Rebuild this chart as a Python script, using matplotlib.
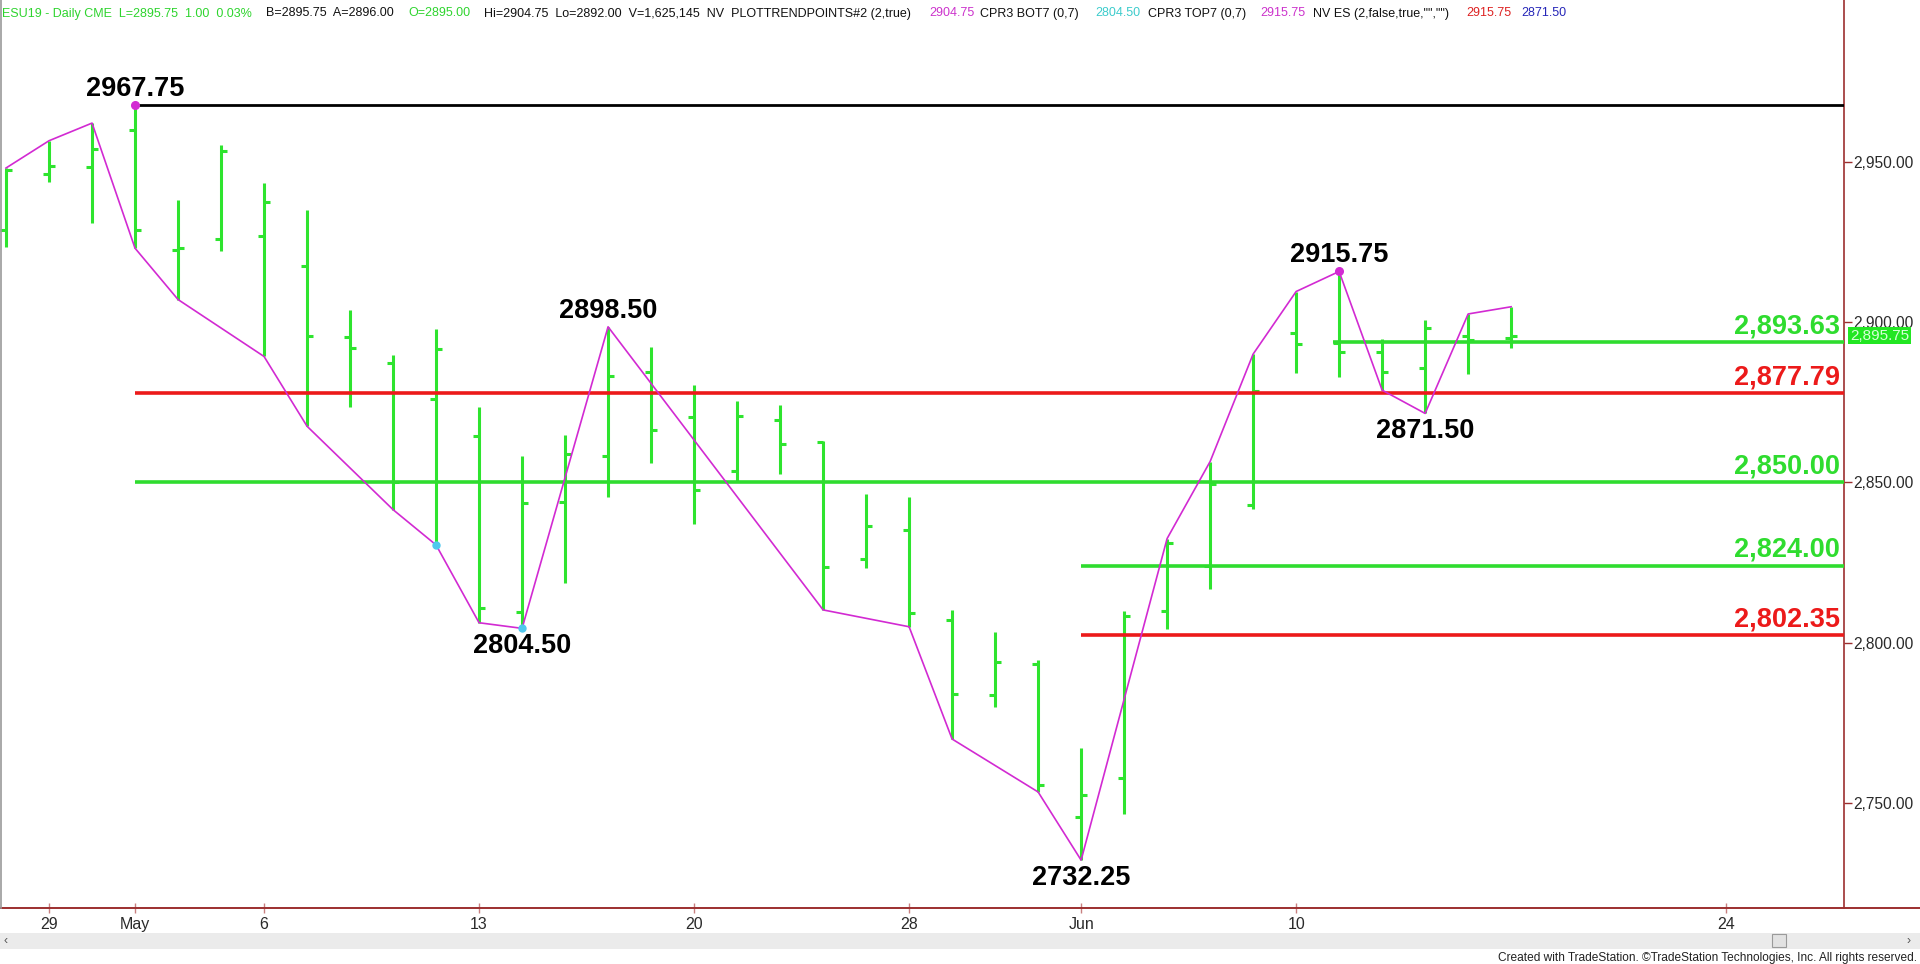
import matplotlib
matplotlib.use("Agg")
import matplotlib.pyplot as plt
from matplotlib.lines import Line2D
from matplotlib.patches import Rectangle
from matplotlib.ticker import FuncFormatter
import pandas as pd

plt.rcParams['font.family'] = ['Liberation Sans', 'DejaVu Sans']

# ---------------- data ----------------
dates = ["2019-04-26", "2019-04-29", "2019-04-30", "2019-05-01", "2019-05-02", "2019-05-03",
         "2019-05-06", "2019-05-07", "2019-05-08", "2019-05-09", "2019-05-10", "2019-05-13",
         "2019-05-14", "2019-05-15", "2019-05-16", "2019-05-17", "2019-05-20", "2019-05-21",
         "2019-05-22", "2019-05-23", "2019-05-24", "2019-05-28", "2019-05-29", "2019-05-30",
         "2019-05-31", "2019-06-03", "2019-06-04", "2019-06-05", "2019-06-06", "2019-06-07",
         "2019-06-10", "2019-06-11", "2019-06-12", "2019-06-13", "2019-06-14", "2019-06-17"]
opens = [2928.75, 2946.00, 2948.25, 2960.00, 2922.50, 2926.00, 2926.75, 2917.50, 2895.25, 2887.25,
         2876.00, 2864.50, 2809.50, 2844.00, 2858.25, 2884.50, 2870.50, 2853.50, 2869.50, 2862.50,
         2826.25, 2835.25, 2807.00, 2783.75, 2793.50, 2745.75, 2758.00, 2810.00, 2824.00, 2843.00,
         2896.50, 2893.50, 2890.75, 2885.75, 2895.75, 2895.00]
highs = [2948.00, 2956.50, 2962.00, 2967.75, 2938.00, 2955.25, 2943.25, 2935.00, 2903.75, 2889.75,
         2897.75, 2873.50, 2858.25, 2864.75, 2898.50, 2892.25, 2880.50, 2875.25, 2874.00, 2863.00,
         2846.50, 2845.50, 2810.25, 2803.25, 2794.50, 2767.25, 2810.00, 2832.50, 2856.50, 2890.00,
         2909.50, 2915.75, 2894.75, 2900.75, 2902.50, 2904.75]
lows = [2923.50, 2943.50, 2931.00, 2923.00, 2907.00, 2922.00, 2889.25, 2867.50, 2873.50, 2841.50,
        2830.50, 2806.25, 2804.50, 2818.75, 2845.50, 2856.00, 2837.00, 2850.25, 2852.50, 2810.25,
        2823.25, 2805.00, 2770.00, 2780.00, 2753.50, 2732.25, 2746.50, 2804.25, 2816.75, 2841.75,
        2884.00, 2883.00, 2878.75, 2871.50, 2883.75, 2892.00]
closes = [2947.25, 2948.50, 2954.00, 2928.75, 2923.00, 2953.25, 2937.50, 2895.50, 2892.00, 2850.25,
          2891.50, 2811.00, 2843.50, 2859.00, 2883.25, 2866.25, 2847.75, 2870.75, 2862.00, 2823.50,
          2836.50, 2809.25, 2784.00, 2794.00, 2755.75, 2752.50, 2808.50, 2831.00, 2849.50, 2878.50,
          2893.25, 2890.50, 2884.50, 2898.25, 2894.25, 2895.75]

# trend line (magenta) vertices: bar date, price
trend_dates = ["2019-04-26", "2019-04-29", "2019-04-30", "2019-05-01", "2019-05-02", "2019-05-06",
               "2019-05-07", "2019-05-09", "2019-05-10", "2019-05-13", "2019-05-14", "2019-05-16",
               "2019-05-23", "2019-05-28", "2019-05-29", "2019-05-31", "2019-06-03", "2019-06-05",
               "2019-06-06", "2019-06-07", "2019-06-10", "2019-06-11", "2019-06-12", "2019-06-13",
               "2019-06-14", "2019-06-17"]
trend_prices = [2948.00, 2956.50, 2962.00, 2923.00, 2907.00, 2889.25, 2867.50, 2841.50, 2830.50,
                2806.25, 2804.50, 2898.50, 2810.25, 2805.00, 2770.00, 2753.50, 2732.25, 2832.50,
                2856.50, 2890.00, 2909.50, 2915.75, 2878.75, 2871.50, 2902.50, 2904.75]

# swing points
swing_dates = ["2019-05-01", "2019-05-14", "2019-05-16", "2019-06-03", "2019-06-11", "2019-06-13"]
swing_prices = [2967.75, 2804.50, 2898.50, 2732.25, 2915.75, 2871.50]
swing_above = [True, False, True, False, True, False]
magenta_dot_dates = ["2019-05-01", "2019-06-11"]
magenta_dot_prices = [2967.75, 2915.75]
cyan_dot_dates = ["2019-05-10", "2019-05-14"]
cyan_dot_prices = [2830.50, 2804.50]

# horizontal levels
level_values = [2967.75, 2893.63, 2877.79, 2850.00, 2824.00, 2802.35]
level_start_dates = ["2019-05-01", "2019-06-11", "2019-05-01", "2019-05-01", "2019-06-03", "2019-06-03"]
level_kinds = ["high", "support", "resist", "support", "support", "resist"]

# axis ticks
x_tick_dates = ["2019-04-29", "2019-05-01", "2019-05-06", "2019-05-13", "2019-05-20",
                "2019-05-28", "2019-06-03", "2019-06-10", "2019-06-24"]
x_tick_labels = ["29", "May", "6", "13", "20", "28", "Jun", "10", "24"]
y_ticks = [2750, 2800, 2850, 2900, 2950]
last_price = 2895.75

header_left = [("ESU19 - Daily CME  L=2895.75  1.00  0.03%", "green"),
               ("B=2895.75  A=2896.00", "black"),
               ("O=2895.00", "green"),
               ("Hi=2904.75  Lo=2892.00  V=1,625,145  NV  PLOTTRENDPOINTS#2 (2,true)", "black")]
header_right = [("2904.75", "magenta", 929), ("CPR3 BOT7 (0,7)", "black", 980),
                ("2804.50", "cyan", 1095), ("CPR3 TOP7 (0,7)", "black", 1148),
                ("2915.75", "magenta", 1260), ('NV ES (2,false,true,"","")', "black", 1313),
                ("2915.75", "red", 1466), ("2871.50", "blue", 1521)]

# ---------------- style ----------------
W, H = 1920, 964
GREEN = "#2ee42e"
LGREEN = "#2fdc2f"
RED = "#ec1a1a"
MAG = "#d22ad2"
CYAN = "#4fc8ee"
AXC = "#9c2f2f"
HCOL = {"green": "#2ed42e", "black": "#111111", "magenta": "#cc33cc", "cyan": "#3ccccc",
        "red": "#dd2222", "blue": "#2626b8"}
KIND_COL = {"high": "#000000", "support": LGREEN, "resist": RED}

# trading calendar (skip Memorial Day)
cal = [d for d in pd.bdate_range("2019-04-26", "2019-06-28").strftime("%Y-%m-%d") if d != "2019-05-27"]
pos = {d: i for i, d in enumerate(cal)}
xs = [pos[d] for d in dates]

fig = plt.figure(figsize=(W / 100, H / 100), dpi=100)
fig.patch.set_facecolor("white")
AX_L, AX_R, AX_T, AX_B = 0, 1844, 0, 908
ax = fig.add_axes([AX_L / W, 1 - AX_B / H, (AX_R - AX_L) / W, (AX_B - AX_T) / H])
ax.set_facecolor("white")
ax.set_xlim(-0.14, 42.74)
ax.set_ylim(2717.33, 3000.37)

# OHLC bars
tw = 0.145
ax.vlines(xs, lows, highs, color=GREEN, lw=2.2, zorder=2)
ax.hlines(opens, [x - tw for x in xs], xs, color=GREEN, lw=2.2, zorder=2)
ax.hlines(closes, xs, [x + tw for x in xs], color=GREEN, lw=2.2, zorder=2)

# level lines + labels
xmax = ax.get_xlim()[1]
for v, sd, k in zip(level_values, level_start_dates, level_kinds):
    start = pos[sd] - (tw if k == "support" and sd == "2019-06-11" else 0.0)
    lw = 2.0 if k == "high" else 2.6
    ax.hlines(v, start, xmax, color=KIND_COL[k], lw=lw, zorder=3)
    if k != "high":
        ax.annotate(f"{v:,.2f}", xy=(1.0, v), xycoords=("axes fraction", "data"),
                    xytext=(-4, 9), textcoords="offset pixels", ha="right", va="baseline",
                    fontsize=19.5, fontweight="bold", color=KIND_COL[k], zorder=6)

# trend line
ax.plot([pos[d] for d in trend_dates], trend_prices, color=MAG, lw=1.2, zorder=5)
ax.plot([pos[d] for d in magenta_dot_dates], magenta_dot_prices, "o", color=MAG, ms=5.5, zorder=6)
ax.plot([pos[d] for d in cyan_dot_dates], cyan_dot_prices, "o", color=CYAN, ms=5, zorder=6)

# swing labels
for d, p, above in zip(swing_dates, swing_prices, swing_above):
    ax.annotate(f"{p:.2f}", xy=(pos[d], p), xytext=(0, 9 if above else -25),
                textcoords="offset pixels", ha="center", va="baseline",
                fontsize=19.5, fontweight="bold", color="black", zorder=7)

# axes styling
for s in ("top", "left"):
    ax.spines[s].set_visible(False)
ax.spines["right"].set_color(AXC)
ax.spines["right"].set_linewidth(1.2)
ax.spines["bottom"].set_color(AXC)
ax.spines["bottom"].set_linewidth(1.4)
ax.yaxis.tick_right()
ax.set_yticks(y_ticks)
ax.yaxis.set_major_formatter(FuncFormatter(lambda v, _: f"{v:,.2f}"))
ax.tick_params(axis="y", direction="out", length=6, width=1, color=AXC,
               labelsize=11.2, labelcolor="#2a2a2a", pad=1)
ax.set_xticks([pos[d] for d in x_tick_dates])
ax.set_xticklabels(x_tick_labels)
ax.tick_params(axis="x", direction="inout", length=7, width=1, color="#c88080",
               labelsize=11.5, labelcolor="#2a2a2a", pad=3)

# last price box
ax.annotate(f"{last_price:,.2f}", xy=(1.0, last_price), xycoords=("axes fraction", "data"),
            xytext=(6, 0), textcoords="offset pixels", ha="left", va="center",
            fontsize=11, color="#d8ffd8", annotation_clip=False, zorder=8,
            bbox=dict(boxstyle="square,pad=0.12", fc="#22e622", ec="none"))

# frame / extra chrome
fig.add_artist(Line2D([AX_R / W, 1], [1 - AX_B / H] * 2, transform=fig.transFigure, color=AXC, lw=1.4))
fig.add_artist(Line2D([0.6 / W] * 2, [1 - AX_B / H, 1], transform=fig.transFigure, color="#9a9a9a", lw=1.2))
fig.add_artist(Rectangle((0, 1 - 949 / H), 1, 16 / H, transform=fig.transFigure,
                         fc="#ebebeb", ec="none"))
fig.add_artist(Rectangle((1772 / W, 1 - 947 / H), 14 / W, 13 / H, transform=fig.transFigure,
                         fc="#e2e2e2", ec="#9a9a9a", lw=0.8))
fig.text(6 / W, 1 - 941 / H, "‹", ha="center", va="center", fontsize=9, color="#555555")
fig.text(1909 / W, 1 - 941 / H, "›", ha="center", va="center", fontsize=9, color="#555555")
fig.text(1917 / W, 1 - 958 / H,
         "Created with TradeStation. ©TradeStation Technologies, Inc. All rights reserved.",
         ha="right", va="center", fontsize=8.6, color="#222222",
         family=["Liberation Sans Narrow", "Liberation Sans", "DejaVu Sans"])

# header
HFS = 9.0
hy = 1 - 16.5 / H
renderer = fig.canvas.get_renderer()
x = 2.5
for txt, col in header_left:
    t = fig.text(x / W, hy, txt, ha="left", va="baseline", fontsize=HFS, color=HCOL[col])
    bb = t.get_window_extent(renderer)
    x = bb.x1 + 14
for txt, col, px in header_right:
    fig.text(px / W, hy, txt, ha="left", va="baseline", fontsize=HFS, color=HCOL[col])

fig.savefig("out.png", dpi=100, facecolor="white")
